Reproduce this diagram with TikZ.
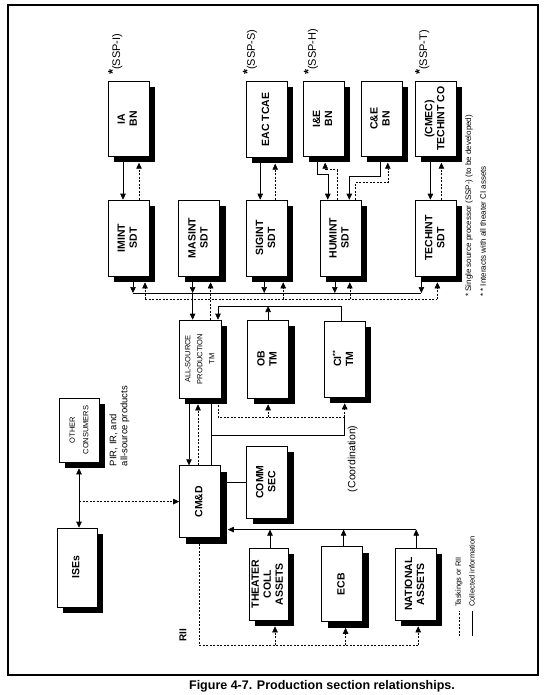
\documentclass[tikz,border=0pt]{standalone}
\usepackage{fontspec}
\setmainfont{Liberation Sans}
\usepackage{graphicx}
\usepackage{tikz}
\usetikzlibrary{arrows.meta, positioning, calc, shadows}
\newcommand{\vlbl}[1]{\rotatebox{90}{\begin{tabular}{@{}c@{}}#1\end{tabular}}}
\newcommand{\sstar}{\raisebox{3pt}{\fontsize{13}{13}\selectfont\bfseries *}}
\tikzstyle{unitbox} = [rectangle, draw=black, line width=0.6pt, fill=white, minimum width=41pt, inner sep=0pt, font=\fontsize{10.5}{12}\selectfont\bfseries, drop shadow={shadow xshift=6pt, shadow yshift=-6pt, fill=black, opacity=1}]
\tikzstyle{lbl}     = [rotate=90, inner sep=0pt, font=\fontsize{7.5}{9}\selectfont]
\tikzstyle{ssp}     = [rotate=90, inner sep=0pt, anchor=base west, font=\fontsize{11}{12}\selectfont]
\tikzstyle{coll}    = [line width=0.6pt]
\tikzstyle{task}    = [line width=0.6pt, dash pattern=on 2pt off 1.5pt]
\tikzstyle{arrow}   = [-{Triangle[length=6pt, width=5.5pt]}]
\begin{document}
\begin{tikzpicture}[x=1pt, y=-1pt]
\useasboundingbox (0,0) rectangle (550,695);
\draw [line width=2pt] (8,5) rectangle (538,675);

% detachment row
\node (imint) [unitbox, minimum height=76pt] at (128.5,238) {\vlbl{IMINT\\SDT}};
\node (masint) [unitbox, minimum height=76pt, right=29pt of imint] {\vlbl{MASINT\\SDT}};
\node (sigint) [unitbox, minimum height=76pt, right=26pt of masint] {\vlbl{SIGINT\\SDT}};
\node (humint) [unitbox, minimum height=76pt, right=32pt of sigint] {\vlbl{HUMINT\\SDT}};
\node (techint) [unitbox, minimum height=76pt, right=54pt of humint] {\vlbl{TECHINT\\SDT}};

% single source processors
\node (ia) [unitbox, minimum height=75pt, above=43pt of imint] {\vlbl{IA\\BN}};
\node (eac) [unitbox, minimum height=76pt, above=42pt of sigint] {\vlbl{EAC TCAE}};
\node (cmec) [unitbox, minimum height=75pt, above=43pt of techint] {\vlbl{(CMEC)\\TECHINT CO}};
\node (ce) [unitbox, minimum height=75pt, left=13pt of cmec] {\vlbl{C\&E\\BN}};
\node (ie) [unitbox, minimum height=75pt, left=16pt of ce] {\vlbl{I\&E\\BN}};
\node (sspI) [ssp] at ([xshift=12.5pt, yshift=6pt]ia.north west) {\sstar(SSP-I)};
\node (sspS) [ssp] at ([xshift=9pt, yshift=6pt]eac.north west) {\sstar(SSP-S)};
\node (sspH) [ssp] at ([xshift=13pt, yshift=6pt]ie.north west) {\sstar(SSP-H)};
\node (sspT) [ssp] at ([xshift=12pt, yshift=6pt]cmec.north west) {\sstar(SSP-T)};

% teams and cells
\node (asp) [unitbox, minimum height=78pt, minimum width=42pt, font=\fontsize{7.5}{12}\selectfont] at (200,359) {\vlbl{ALL-SOURCE\\PRODUCTION\\TM}};
\node (ob) [unitbox, minimum height=78pt, right=26pt of asp] {\vlbl{OB\\TM}};
\node (ci) [unitbox, minimum height=76pt, right=35pt of ob] {\vlbl{CI\raisebox{3.5pt}{\fontsize{7}{7}\selectfont **}\\TM}};
\node (cmd) [unitbox, minimum height=72pt, below=67pt of asp] {\vlbl{CM\&D}};
\node (comm) [unitbox, minimum height=72pt] at (267,482) {\vlbl{COMM\\SEC}};
\node (oc) [unitbox, minimum height=64pt, minimum width=40pt, font=\fontsize{7.5}{13.5}\selectfont] at (79,430) {\vlbl{OTHER\\CONSUMERS}};
\node (ises) [unitbox, minimum height=79pt, minimum width=40pt] at (77,567.5) {\vlbl{ISEs}};
\node (theater) [unitbox, minimum height=72pt, minimum width=39pt] at (268.5,584) {\vlbl{THEATER\\COLL\\ASSETS}};
\node (ecb) [unitbox, minimum height=75pt, right=33pt of theater] {\vlbl{ECB}};
\node (national) [unitbox, minimum height=72pt, right=32pt of ecb] {\vlbl{NATIONAL\\ASSETS}};

% processors <-> detachments
\draw [coll, arrow] ([xshift=-5.5pt]ia.south) -- ([xshift=-5.5pt]ia.south |- imint.north);
\draw [task, arrow] ([xshift=10.5pt]imint.north) -- ([xshift=10.5pt, yshift=-6pt]ia.south);
\draw [coll, arrow] ([xshift=-6.5pt]eac.south) -- ([xshift=-6.5pt]eac.south |- sigint.north);
\draw [task, arrow] ([xshift=8.5pt]sigint.north) -- ([xshift=8.5pt, yshift=-6pt]eac.south);
\draw [coll, arrow] ([xshift=-6.5pt]ie.south) -- ++(0,18) -| ([xshift=-12.5pt]humint.north);
\draw [task, arrow] ([xshift=-3.5pt]humint.north) -- ++(0,-30) -| ([xshift=1.5pt, yshift=-6pt]ie.south);
\draw [coll, arrow] ([xshift=-1.5pt]ce.south) -- ++(0,20) -| ([xshift=9pt]humint.north);
\draw [task, arrow] ([xshift=15pt]humint.north) -- ++(0,-17) -| ([xshift=6.5pt, yshift=-6pt]ce.south);
\draw [coll, arrow] ([xshift=-5.5pt]cmec.south) -- ([xshift=-5.5pt]cmec.south |- techint.north);
\draw [task, arrow] ([xshift=5.5pt]techint.north) -- ([xshift=5.5pt, yshift=-6pt]cmec.south);

% detachments <-> all-source production
\coordinate (sbus) at (0,293);
\coordinate (tbus) at (0,299);
\foreach \n/\a/\b in {imint/4.5/16.5, masint/-6.5/11.5, sigint/-2.5/16.5, humint/-5.5/9.5, techint/-14.5/1.5} {
  \draw [coll, arrow] ([xshift=\a pt]\n.south) -- ([xshift=\a pt]\n.south |- sbus);
  \draw [task, arrow] ([xshift=\b pt]\n.south |- tbus) -- ([xshift=\b pt, yshift=-6pt]\n.south);
}
\draw [coll] ([xshift=4.5pt]imint.south |- sbus) -- ([xshift=-14.5pt]techint.south |- sbus);
\draw [task] ([xshift=16.5pt]imint.south |- tbus) -- ([xshift=1.5pt]techint.south |- tbus);
\draw [coll, arrow] ([xshift=-6.5pt]masint.south |- sbus) -- ([xshift=-6.5pt]masint.south |- asp.north);
\draw [task] ([xshift=10pt]asp.north) -- ([xshift=10pt]asp.north |- tbus);

% OB and CI to all-source production
\coordinate (tline) at (0,306);
\draw [coll, arrow] ([xshift=-3.5pt]ci.north) |- ([xshift=18pt]asp.north |- tline) -- ([xshift=18pt]asp.north);
\draw [coll, arrow] (ob.north) -- (ob.north |- tline);

% all-source production <-> CM&D
\draw [coll, arrow] ([xshift=-11pt]asp.south) -- ([xshift=-11pt]asp.south |- cmd.north);
\draw [task, arrow] ([xshift=-2pt]cmd.north) -- ([xshift=-2pt, yshift=-6pt]asp.south);
\draw [coll] ([xshift=11pt]asp.south) -- ([xshift=11pt]asp.south |- cmd.north);
\coordinate (dline) at (0,417);
\coordinate (kline) at (0,435);
\draw [task] ([xshift=18pt]asp.south) |- (ci.south |- dline);
\draw [task, arrow] (ob.south |- dline) -- ([yshift=-6pt]ob.south);
\draw [task, arrow] (ci.south |- dline) -- ([yshift=-6pt]ci.south);
\draw [coll] ([xshift=11pt]asp.south |- kline) -| (ci.south |- dline);
\node (coord) [rotate=90, inner sep=0pt, anchor=east, font=\fontsize{10.5}{12}\selectfont] at ([xshift=8pt, yshift=-28pt]ci.south) {(Coordination)};
\draw [coll] (comm.west) -- (comm.west -| cmd.east);

% consumers
\draw [coll, {Triangle[length=6pt, width=5.5pt]}-{Triangle[length=6pt, width=5.5pt]}] ([yshift=-6pt]oc.south) -- (oc.south |- ises.north);
\draw [task, arrow] (oc.south |- cmd.west) -- (cmd.west);
\node (pir) [rotate=90, inner sep=0pt, anchor=north west, align=left, font=\fontsize{9.5}{11}\selectfont] at ([xshift=10pt, yshift=-4pt]oc.south east) {PIR, IR, and\\all-source products};

% collection assets
\coordinate (aline) at ([xshift=7pt, yshift=-28pt]cmd.east);
\draw [coll, arrow] ([xshift=0.5pt]national.north |- aline) -- (aline);
\foreach \n/\s in {theater/1.5, ecb/1.5, national/0.5}
  \draw [coll, arrow] ([xshift=\s pt]\n.north) -- ([xshift=\s pt]\n.north |- aline);
\coordinate (rline) at (0,645);
\draw [task] ([xshift=-1pt, yshift=-6pt]cmd.south) |- ([xshift=2.5pt]national.south |- rline);
\foreach \n/\s in {theater/6.5, ecb/3.5, national/2.5}
  \draw [task, arrow] ([xshift=\s pt]\n.south |- rline) -- ([xshift=\s pt, yshift=-6pt]\n.south);
\node (rii) [rotate=90, inner sep=0pt, font=\fontsize{10}{12}\selectfont\bfseries] at (183,635) {RII};

% legend and notes
\coordinate (lgT) at (459,636);
\coordinate (lgC) at (472,636);
\draw [task] (lgT) -- ++(0,-25);
\draw [coll] (lgC) -- ++(0,-25);
\node (lgTtext) [lbl, anchor=west] at ([yshift=29pt]lgT) {Taskings or RII};
\node (lgCtext) [lbl, anchor=west] at ([yshift=29pt]lgC) {Collected information};
\node (fn1) [lbl, anchor=west, font=\fontsize{8}{9}\selectfont] at (469,297) {* Single source processor (SSP-) (to be developed)};
\node (fn2) [lbl, anchor=west, font=\fontsize{8}{9}\selectfont] at (483,297) {* * Interacts with all theater CI assets};

\node (caption) [font=\fontsize{12.5}{14}\selectfont\bfseries] at (322,686) {Figure 4-7. Production section relationships.};
\end{tikzpicture}
\end{document}
